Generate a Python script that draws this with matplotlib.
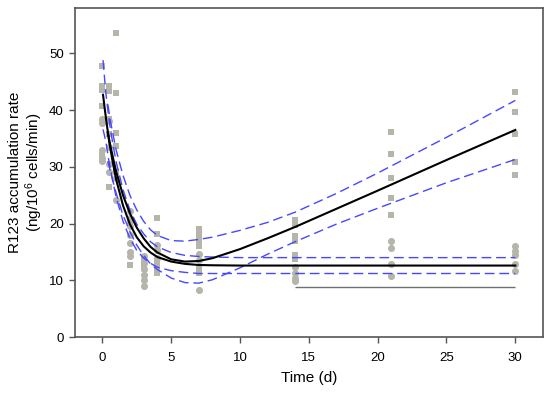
import matplotlib
matplotlib.use("Agg")
import matplotlib.pyplot as plt

plt.rcParams['font.family'] = ['Liberation Sans', 'DejaVu Sans']
plt.rcParams['mathtext.default'] = 'regular'

# scatter data: squares (rising group) and circles (flat group)
sq_t = [0, 0, 0, 0, 0, 0.5, 0.5, 0.5, 0.5, 0.5, 1, 1, 1, 1, 1,
        2, 2, 3, 3, 4, 4, 4, 4, 4,
        7, 7, 7, 7, 7, 7, 7,
        14, 14, 14, 14, 14, 14,
        21, 21, 21, 21, 21,
        30, 30, 30, 30, 30]
sq_y = [47.7, 44.2, 43.6, 40.8, 32.0, 44.2, 43.3, 38.5, 35.8, 26.4, 53.6, 43.0, 36.0, 33.7, 29.0,
        20.5, 12.7, 13.5, 12.5, 21.0, 18.1, 13.3, 12.2, 11.3,
        19.1, 18.3, 17.5, 16.7, 16.0, 12.2, 11.3,
        20.6, 19.8, 17.8, 16.9, 14.5, 13.8,
        36.2, 32.2, 28.0, 24.5, 21.5,
        43.2, 39.7, 35.8, 30.9, 28.6]
ci_t = [0, 0, 0, 0, 0, 0.5, 0.5, 0.5, 0.5, 1, 1,
        2, 2, 2, 2, 2, 2, 2,
        3, 3, 3, 3, 3, 3,
        4, 4, 4, 7, 7, 7,
        14, 14, 14, 14,
        21, 21, 21, 21,
        30, 30, 30, 30, 30]
ci_y = [38.5, 37.8, 33.0, 31.5, 31.0, 38.0, 33.5, 30.5, 29.0, 28.0, 24.2,
        22.2, 21.0, 19.5, 18.0, 16.5, 15.0, 14.2,
        14.2, 13.0, 12.0, 11.0, 10.0, 9.0,
        16.3, 15.4, 14.0, 14.7, 13.6, 8.3,
        12.4, 11.3, 10.4, 9.8,
        17.0, 15.7, 12.9, 10.8,
        16.0, 15.1, 14.5, 12.9, 11.7]

# fitted curve for the circles (decay to plateau) and its band
flat_t = [0.05, 0.25, 0.5, 0.75, 1, 1.5, 2, 2.5, 3, 3.5, 4, 5, 6, 7, 8, 10, 14, 21, 30]
flat_y = [42.7, 38.8, 34.4, 30.9, 27.8, 23.2, 19.9, 17.6, 16.0, 14.9, 14.1, 13.3, 12.9, 12.7, 12.65, 12.6, 12.6, 12.6, 12.6]
flat_hi = [48.8, 43.1, 38.1, 34.2, 30.9, 26.0, 22.4, 19.9, 18.2, 16.8, 15.9, 14.9, 14.4, 14.2, 14.1, 14.0, 14.0, 14.0, 14.0]
flat_lo = [36.6, 34.5, 30.7, 27.6, 24.7, 20.4, 17.4, 15.3, 13.9, 13.0, 12.3, 11.7, 11.4, 11.2, 11.2, 11.2, 11.2, 11.2, 11.2]

# fitted curve for the squares (decay then linear rise) and its band
rise_t = [0.4, 0.6, 0.8, 1, 1.5, 2, 2.5, 3, 3.5, 4, 5, 6, 7, 8, 10, 12, 14, 17, 20, 25, 30]
rise_y = [36.0, 33.5, 31.3, 29.2, 25.0, 21.8, 19.3, 17.4, 15.9, 14.9, 13.7, 13.3, 13.4, 13.9, 15.5, 17.4, 19.4, 22.6, 25.8, 31.2, 36.5]
rise_hi = [41.0, 37.9, 35.4, 33.0, 28.5, 25.0, 22.4, 20.4, 18.9, 17.9, 17.0, 16.9, 17.2, 17.6, 18.8, 20.2, 22.0, 25.3, 28.9, 35.2, 41.7]
rise_lo = [31.0, 29.1, 27.2, 25.4, 21.5, 18.6, 16.2, 14.4, 12.9, 11.9, 10.4, 9.6, 9.5, 10.1, 12.2, 14.6, 16.8, 19.9, 22.7, 27.2, 31.3]

# thin reference line
ref_t = [14, 30]
ref_y = 8.8

fig = plt.figure(figsize=(5.5, 3.97), dpi=100)
ax = fig.add_axes([0.136, 0.151, 0.851, 0.829])

gray = '#b5b5ab'
ax.scatter(sq_t, sq_y, marker='s', s=20, color=gray, zorder=2, linewidths=0)
ax.scatter(ci_t, ci_y, marker='o', s=26, color=gray, zorder=2, linewidths=0)

blue = '#4747ff'
for yy in (flat_hi, flat_lo):
    ax.plot(flat_t, yy, color=blue, lw=1.0, ls=(0, (7, 3.5)), zorder=3)
for yy in (rise_hi, rise_lo):
    ax.plot(rise_t, yy, color=blue, lw=1.0, ls=(0, (7, 3.5)), zorder=3)
ax.plot(flat_t, flat_y, color='black', lw=1.5, zorder=4)
ax.plot(rise_t, rise_y, color='black', lw=1.5, zorder=4)

ax.hlines(ref_y, ref_t[0], ref_t[1], color='#707070', lw=1.0, zorder=3)

ax.set_xlim(-2, 32)
ax.set_ylim(0, 58)
ax.set_xticks([0, 5, 10, 15, 20, 25, 30])
ax.set_yticks([0, 10, 20, 30, 40, 50])
ax.tick_params(direction='out', length=4, width=1, color='#555555', labelsize=9.5, pad=4)
ax.tick_params(axis='x', pad=7)
for s in ax.spines.values():
    s.set_color('#555555')
    s.set_linewidth(1.2)

ax.set_xlabel('Time (d)', fontsize=11, labelpad=5)
ax.set_ylabel('R123 accumulation rate\n(ng/10$^6$ cells/min)', fontsize=11, linespacing=1.1)
ax.yaxis.set_label_coords(-0.064, 0.5)

fig.savefig('out.png', dpi=100)
